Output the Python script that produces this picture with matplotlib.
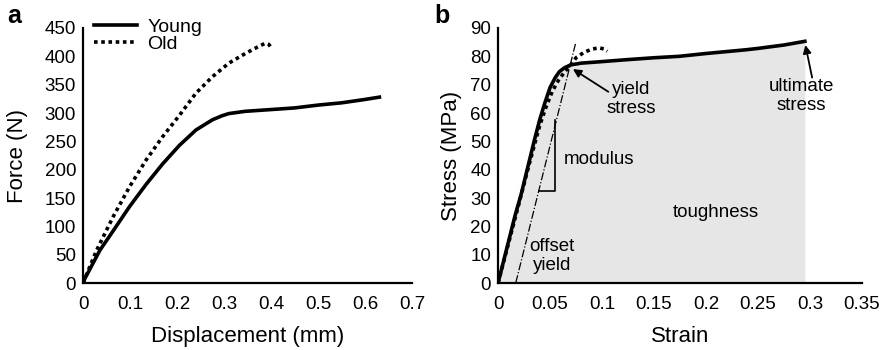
import matplotlib.pyplot as plt

plt.rcParams['font.family'] = ['Liberation Sans', 'DejaVu Sans']

# panel a: force vs displacement
young_disp = [0, 0.004, 0.036, 0.064, 0.099, 0.134, 0.169, 0.205, 0.240, 0.275,
              0.295, 0.310, 0.345, 0.416, 0.45, 0.5, 0.55, 0.6, 0.63]
young_force = [0, 8, 58, 92, 135, 174, 210, 243, 270, 288,
               295, 299, 303, 307, 309, 314, 318, 324, 328]
old_disp = [0, 0.029, 0.064, 0.099, 0.134, 0.169, 0.205, 0.240, 0.275, 0.310,
            0.345, 0.37, 0.387, 0.395, 0.401]
old_force = [0, 58, 117, 170, 217, 258, 296, 335, 364, 388,
             405, 416, 423, 421, 414]
a_xticks = [0, 0.1, 0.2, 0.3, 0.4, 0.5, 0.6, 0.7]
a_xlabels = ['0', '0.1', '0.2', '0.3', '0.4', '0.5', '0.6', '0.7']
a_yticks = list(range(0, 451, 50))

# panel b: stress vs strain
young_strain = [0, 0.0165, 0.022, 0.030, 0.035, 0.040, 0.0445, 0.050, 0.055, 0.059,
                0.064, 0.070, 0.080, 0.095, 0.123, 0.15, 0.174, 0.2, 0.238, 0.25,
                0.275, 0.295]
young_stress = [0, 24, 31, 43, 50.5, 57.5, 63, 69, 72.5, 74.6,
                76, 77, 77.6, 78, 78.8, 79.5, 80, 81, 82.3, 82.8,
                84, 85.3]
old_strain = [0, 0.0165, 0.03, 0.040, 0.046, 0.052, 0.058, 0.064, 0.069, 0.075,
              0.083, 0.091, 0.097, 0.102, 0.105]
old_stress = [0, 23, 42, 55.5, 62, 67.5, 71.5, 74.5, 76.5, 79.5,
              81.5, 82.6, 83, 82.6, 81.8]
offset_strain = [0.017, 0.0745]
offset_stress = [0, 84.5]
b_xticks = [0, 0.05, 0.1, 0.15, 0.2, 0.25, 0.3, 0.35]
b_xlabels = ['0', '0.05', '0.1', '0.15', '0.2', '0.25', '0.3', '0.35']
b_yticks = list(range(0, 91, 10))

fig = plt.figure(figsize=(8.9, 3.5), dpi=100)
ax1 = fig.add_axes([0.0933, 0.1914, 0.370, 0.7286])
ax2 = fig.add_axes([0.5596, 0.1914, 0.409, 0.7286])


def style_axes(ax):
    for s in ['top', 'right']:
        ax.spines[s].set_visible(False)
    for s in ['left', 'bottom']:
        ax.spines[s].set_linewidth(1.6)
    ax.tick_params(axis='both', length=0, labelsize=13.5)
    ax.tick_params(axis='x', pad=9)
    ax.tick_params(axis='y', pad=5)


# panel a
style_axes(ax1)
ax1.plot(young_disp, young_force, color='black', lw=2.6, label='Young',
         solid_joinstyle='round')
ax1.plot(old_disp, old_force, color='black', lw=2.6, ls=(0, (1, 1)), label='Old')
ax1.set_xlim(0, 0.7)
ax1.set_ylim(0, 450)
ax1.set_xticks(a_xticks)
ax1.set_xticklabels(a_xlabels)
ax1.set_yticks(a_yticks)
ax1.set_xlabel('Displacement (mm)', fontsize=16, labelpad=10)
ax1.set_ylabel('Force (N)', fontsize=16, labelpad=12)
ax1.legend(loc='upper left', bbox_to_anchor=(0.01, 1.07), frameon=False, fontsize=14,
           handlelength=2.2, handletextpad=0.55, labelspacing=0.0, borderaxespad=0)

# panel b
style_axes(ax2)
ax2.fill_between(young_strain, young_stress, 0, color='#e6e6e6', lw=0)
ax2.plot(offset_strain, offset_stress, color='black', lw=0.9, ls='-.')
ax2.plot(young_strain, young_stress, color='black', lw=2.6, solid_joinstyle='round')
ax2.plot(old_strain, old_stress, color='black', lw=2.6, ls=(0, (1, 1)))
# modulus bracket
ax2.plot([0.039, 0.055, 0.055], [32.3, 32.3, 57.7], color='black', lw=1.2)
ax2.set_xlim(0, 0.35)
ax2.set_ylim(0, 90)
ax2.set_xticks(b_xticks)
ax2.set_xticklabels(b_xlabels)
ax2.set_yticks(b_yticks)
ax2.set_xlabel('Strain', fontsize=16, labelpad=10)
ax2.set_ylabel('Stress (MPa)', fontsize=16, labelpad=6)

afs = 13.5
arrow = dict(arrowstyle='-|>', color='black', lw=1.3, mutation_scale=12,
             shrinkA=0, shrinkB=0)
ax2.annotate('', xy=(0.072, 75.5), xytext=(0.106, 67.5), arrowprops=arrow)
ax2.text(0.128, 65, 'yield\nstress', ha='center', va='center', fontsize=afs,
         linespacing=1.2)
ax2.annotate('', xy=(0.2955, 84), xytext=(0.302, 72.5), arrowprops=arrow)
ax2.text(0.292, 66, 'ultimate\nstress', ha='center', va='center', fontsize=afs,
         linespacing=1.2)
ax2.text(0.063, 43.5, 'modulus', ha='left', va='center', fontsize=afs)
ax2.text(0.209, 25, 'toughness', ha='center', va='center', fontsize=afs)
ax2.text(0.052, 9.5, 'offset\nyield', ha='center', va='center', fontsize=afs,
         linespacing=1.2)

fig.text(0.008, 0.955, 'a', fontsize=18, fontweight='bold', va='center')
fig.text(0.488, 0.955, 'b', fontsize=18, fontweight='bold', va='center')

fig.savefig('out.png', dpi=100)
